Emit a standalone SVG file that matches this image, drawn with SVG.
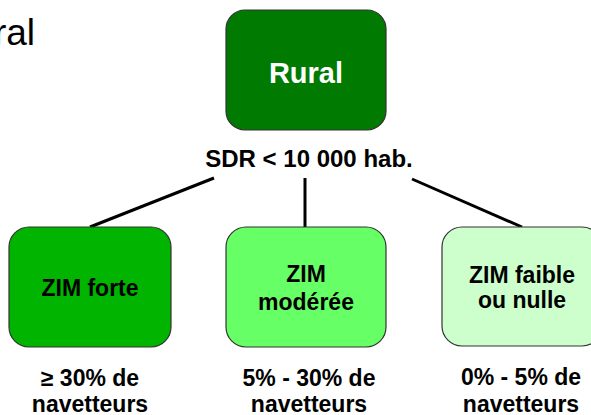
<svg xmlns="http://www.w3.org/2000/svg" width="591" height="415" viewBox="0 0 591 415">
<style>
.box{stroke:#333;stroke-width:1.2}
.t{font-family:"Liberation Sans",Arial,sans-serif;font-weight:bold;text-anchor:middle;fill:#000}
.c{stroke:#000;stroke-width:3;fill:none}
</style>
<rect width="591" height="415" fill="#fff"/>
<text x="35" y="45" font-family="Liberation Sans, Arial, sans-serif" font-size="37" text-anchor="end" fill="#000">Rural</text>
<g id="connectors">
<line class="c" x1="214" y1="178" x2="90" y2="227"/>
<line class="c" x1="305" y1="178" x2="305" y2="227"/>
<line class="c" x1="412" y1="179" x2="522" y2="227"/>
</g>
<g id="rural">
<rect class="box" x="226" y="10" width="160" height="120" rx="19" fill="#007a00"/>
<text class="t" x="306" y="83" font-size="29" fill="#fff" style="fill:#fff">Rural</text>
</g>
<text class="t" x="309" y="167" font-size="24">SDR &lt; 10 000 hab.</text>
<g id="zim-forte">
<rect class="box" x="9" y="227" width="162" height="120" rx="20" fill="#00b400"/>
<text class="t" x="90" y="296" font-size="23">ZIM forte</text>
</g>
<g id="zim-moderee">
<rect class="box" x="226" y="227" width="160" height="120" rx="20" fill="#66ff66"/>
<text class="t" x="306" y="282" font-size="23">ZIM</text>
<text class="t" x="306" y="310" font-size="23">modérée</text>
</g>
<g id="zim-faible">
<rect class="box" x="442" y="227" width="160" height="119" rx="20" fill="#ccffcc"/>
<text class="t" x="522" y="283" font-size="23">ZIM faible</text>
<text class="t" x="522" y="308" font-size="23">ou nulle</text>
</g>
<g id="labels">
<text class="t" x="90" y="386" font-size="23">≥ 30% de</text>
<text class="t" x="90" y="412" font-size="23">navetteurs</text>
<text class="t" x="309" y="386" font-size="23">5% - 30% de</text>
<text class="t" x="309" y="412" font-size="23">navetteurs</text>
<text class="t" x="521" y="385" font-size="23">0% - 5% de</text>
<text class="t" x="521" y="412" font-size="23">navetteurs</text>
</g>
</svg>
